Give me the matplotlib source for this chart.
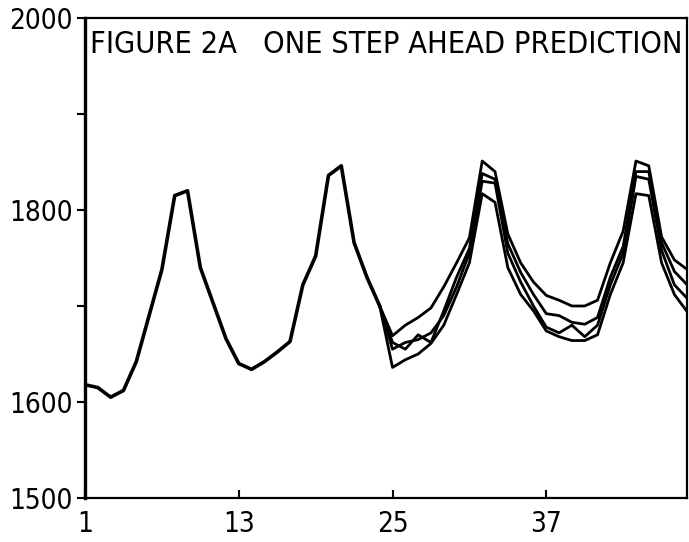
import numpy as np
import matplotlib
matplotlib.use("Agg")
import matplotlib.pyplot as plt
from matplotlib import font_manager as fm

# observed series, months 1..24
months_hist = list(range(1, 25))
observed = [1618, 1615, 1605, 1612, 1642, 1690, 1738, 1815, 1820, 1740,
            1703, 1666, 1640, 1634, 1642, 1652, 1663, 1722, 1752, 1836,
            1846, 1766, 1730, 1700]

# one step ahead predictions, months 24..48
months_pred = list(range(24, 49))
pred_a = [1700, 1669, 1680, 1688, 1698, 1720, 1745, 1771, 1851, 1840, 1775, 1745,
          1725, 1711, 1706, 1700, 1700, 1706, 1745, 1778, 1851, 1846, 1772, 1748, 1738]
pred_b = [1700, 1662, 1655, 1670, 1662, 1695, 1730, 1760, 1838, 1832, 1765, 1735,
          1712, 1692, 1690, 1683, 1681, 1688, 1730, 1762, 1840, 1840, 1766, 1736, 1722]
pred_c = [1700, 1655, 1662, 1665, 1672, 1690, 1720, 1755, 1830, 1828, 1755, 1725,
          1700, 1678, 1672, 1680, 1668, 1680, 1722, 1755, 1835, 1832, 1758, 1722, 1708]
pred_d = [1700, 1636, 1644, 1650, 1661, 1680, 1712, 1745, 1817, 1808, 1740, 1712,
          1695, 1674, 1668, 1664, 1664, 1670, 1712, 1745, 1817, 1815, 1745, 1712, 1694]

yticks = [1500, 1600, 1700, 1800, 1900, 2000]
ylabels = ["1500", "1600", "", "1800", "", "2000"]
xticks = [1, 13, 25, 37]
xlabels = ["1", "13", "25", "37"]

# prefer a condensed face if one is installed
cond = fm.FontProperties(family='DejaVu Sans', stretch='condensed')
have_cond = 'Condensed' in fm.findfont(cond, fallback_to_default=True)
if have_cond:
    title_font = dict(family='DejaVu Sans', stretch='condensed', fontsize=22)
    tick_font = dict(family='DejaVu Sans', stretch='condensed')
    tick_size = 20
else:
    title_font = dict(family='DejaVu Sans', fontsize=19)
    tick_font = dict(family='DejaVu Sans')
    tick_size = 19

fig = plt.figure(figsize=(6.89, 5.42), dpi=100)
ax = fig.add_axes([0.1234, 0.0812, 0.874, 0.8856])

ax.plot(months_hist, observed, color='black', lw=2.6)
for p in (pred_a, pred_b, pred_c, pred_d):
    ax.plot(months_pred, p, color='black', lw=2.0)

ax.set_xlim(1, 48)
ax.set_ylim(1500, 2000)
ax.set_yticks(yticks)
ax.set_yticklabels(ylabels, fontsize=tick_size, **tick_font)
ax.set_xticks(xticks)
ax.set_xticklabels(xlabels, fontsize=tick_size, **tick_font)
ax.tick_params(axis='y', direction='out', length=6, width=1.5, pad=3)
ax.tick_params(axis='x', direction='in', length=6, width=1.5, pad=9)
for s in ax.spines.values():
    s.set_linewidth(1.6)
ax.spines['left'].set_linewidth(2.4)

ax.text(0.008, 0.975, "FIGURE 2A   ONE STEP AHEAD PREDICTION", transform=ax.transAxes,
        ha='left', va='top', **title_font)

fig.savefig("out.png", dpi=100)
